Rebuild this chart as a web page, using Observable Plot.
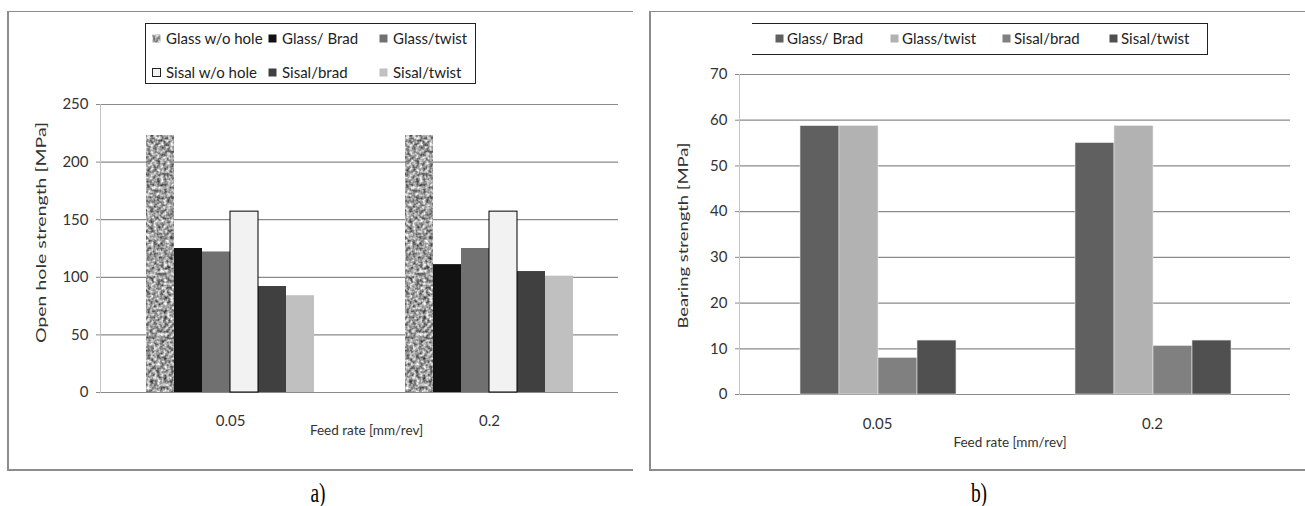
<!DOCTYPE html>
<html>
<head>
<meta charset="utf-8">
<script src="https://cdn.jsdelivr.net/npm/d3@7"></script>
<script src="https://cdn.jsdelivr.net/npm/@observablehq/plot@0.6"></script>
<style>
  body { margin: 0; background: #fff; }
  #page { position: relative; width: 1305px; height: 506px; overflow: hidden; background: #fff; font-family: Lato, "Open Sans", sans-serif; color: #333; }
  .abs { position: absolute; }
  .leg { position: absolute; font-size: 15px; line-height: 16px; white-space: nowrap; color: #222; }
  .sw { position: absolute; width: 9px; height: 9px; }
  .cap { position: absolute; font-family: "Liberation Serif", "DejaVu Serif", serif; font-size: 27px; color: #000; transform: translate(-50%, -50%) scaleX(0.72); }
</style>
</head>
<body>
<div id="page">
  <svg width="0" height="0" style="position:absolute">
    <defs>
      <filter id="noiseF" x="0" y="0" width="100%" height="100%" color-interpolation-filters="sRGB">
        <feTurbulence type="fractalNoise" baseFrequency="0.3" numOctaves="2" seed="7" stitchTiles="stitch"/>
        <feColorMatrix type="matrix" values="0 0 0 1.2 0.02  0 0 0 1.2 0.02  0 0 0 1.2 0.02  0 0 0 0 1"/>
      </filter>
      <pattern id="granite" patternUnits="userSpaceOnUse" width="200" height="400">
        <rect width="200" height="400" fill="#aaa" filter="url(#noiseF)"/>
      </pattern>
    </defs>
  </svg>
  <div class="abs" style="left:7px;top:11px;width:626px;height:460px;box-sizing:border-box;border-top:1.5px solid #8c8c8c;border-left:2px solid #8c8c8c;border-bottom:2px solid #8c8c8c;"></div>
  <div class="abs" style="left:649px;top:11px;width:700px;height:460px;box-sizing:border-box;border-top:1.5px solid #8c8c8c;border-left:2px solid #8c8c8c;border-bottom:2px solid #8c8c8c;"></div>
  <div id="chartA" class="abs" style="left:0;top:0"></div>
  <div id="barsA" class="abs" style="left:0;top:0"></div>
  <div id="chartB" class="abs" style="left:640px;top:0"></div>
  <div id="barsB" class="abs" style="left:640px;top:0"></div>
  <div class="abs" style="left:145px;top:23px;width:331px;height:61px;box-sizing:border-box;border:1px solid #222;background:#fff"></div>
  <div class="abs" style="left:752px;top:23px;width:456px;height:32px;box-sizing:border-box;border-top:1px solid #222;border-right:1px solid #222;border-bottom:1px solid #222;background:#fff"></div>
  <div id="legA"></div>
  <div id="legB"></div>
  <div class="cap" style="left:318px;top:493px">a)</div>
  <div class="cap" style="left:979px;top:493px">b)</div>
</div>
<script>
// ---- Data: panel a) Open hole strength ----
const feedRates = ["0.05", "0.2"];
const seriesA = ["Glass w/o hole", "Glass/ Brad", "Glass/twist", "Sisal w/o hole", "Sisal/brad", "Sisal/twist"];
const openHole_005 = [223, 125, 122, 157, 92, 84];
const openHole_02 = [223, 111, 125, 157, 105, 101];
const fillsA = ["url(#granite)", "#111111", "#707070", "#f2f2f2", "#404040", "#c0c0c0"];
const ticksA = [0, 50, 100, 150, 200, 250];

// ---- Data: panel b) Bearing strength ----
const seriesB = ["Glass/ Brad", "Glass/twist", "Sisal/brad", "Sisal/twist"];
const bearing_005 = [58.7, 58.7, 8, 11.8];
const bearing_02 = [55, 58.7, 10.6, 11.8];
const fillsB = ["#606060", "#b2b2b2", "#808080", "#505050"];
const ticksB = [0, 10, 20, 30, 40, 50, 60, 70];

const rowsA = [];
seriesA.forEach((s, i) => {
  rowsA.push({feed: feedRates[0], series: s, value: openHole_005[i]});
  rowsA.push({feed: feedRates[1], series: s, value: openHole_02[i]});
});
const rowsB = [];
seriesB.forEach((s, i) => {
  rowsB.push({feed: feedRates[0], series: s, value: bearing_005[i]});
  rowsB.push({feed: feedRates[1], series: s, value: bearing_02[i]});
});

const baseStyle = {fontFamily: "Lato, 'Open Sans', sans-serif", fontSize: "13px", color: "#333", background: "transparent", overflow: "visible"};
const gridColor = "#8a8a8a";

// geometry shared by background (axes/grid) and foreground (bars) plots of each panel
const geoA = {width: 640, height: 460, marginLeft: 100, marginRight: 22, marginTop: 104, marginBottom: 68};
const padA = {paddingInner: 0.336, paddingOuter: 0.168};
const geoB = {width: 665, height: 460, marginLeft: 99, marginRight: 15, marginTop: 74, marginBottom: 66};
const padB = {paddingInner: 0.43, paddingOuter: 0.215};

function background(geo, pad, yDomain, ticks, yLabel, yLab, xLab, tickPad) {
  const svg = Plot.plot({
    ...geo,
    style: baseStyle,
    x: {domain: feedRates, ...pad, axis: null},
    y: {domain: yDomain, axis: null},
    marks: [
      Plot.gridY(ticks, {stroke: gridColor, strokeOpacity: 1, strokeWidth: 1.2}),
      Plot.frame({anchor: "left", stroke: "#c4c4c4"}),
      Plot.axisY({ticks: ticks, tickSize: 4, tickPadding: 8, stroke: gridColor, fill: "#333", fontSize: 15, label: null, tickFormat: d => String(d)}),
      Plot.axisX({anchor: "bottom", tickSize: 0, tickPadding: tickPad, fill: "#333", fontSize: 15, label: null}),
      Plot.text([yLabel], {text: d => d, frameAnchor: "left", textAnchor: "middle", rotate: -90, dx: yLab.dx, dy: yLab.dy, fontSize: 14, fill: "#333"}),
      Plot.text(["Feed rate [mm/rev]"], {text: d => d, frameAnchor: "bottom", dx: xLab.dx, dy: xLab.dy, fontSize: 13.5, fill: "#333"})
    ]
  });
  // stretch the vertical axis title along its length, as in the reference
  svg.querySelectorAll("text").forEach(t => {
    if (t.textContent === yLabel) {
      t.setAttribute("textLength", yLab.len);
      t.setAttribute("lengthAdjust", "spacingAndGlyphs");
    }
  });
  return svg;
}

function bars(geo, pad, yDomain, rows, series, fills, extraMarks, barOpts) {
  return Plot.plot({
    ...geo,
    style: baseStyle,
    fx: {domain: feedRates, ...pad, axis: null, label: null},
    x: {domain: series, padding: 0, axis: null},
    y: {domain: yDomain, axis: null},
    color: {domain: series, range: fills},
    marks: [
      Plot.barY(rows, {fx: "feed", x: "series", y: "value", fill: "series", ...barOpts}),
      ...extraMarks
    ]
  });
}

document.getElementById("chartA").appendChild(
  background(geoA, padA, [0, 250], ticksA, "Open hole strength [MPa]", {dx: -59, dy: -16, len: 221}, {dx: 7, dy: 42}, 23));
document.getElementById("barsA").appendChild(
  bars(geoA, padA, [0, 250], rowsA, seriesA, fillsA, [
    Plot.barY(rowsA.filter(d => d.series === "Sisal w/o hole"), {fx: "feed", x: "series", y: "value", fill: "none", stroke: "#000", strokeWidth: 1})
  ], {}));

document.getElementById("chartB").appendChild(
  background(geoB, padB, [0, 70], ticksB, "Bearing strength [MPa]", {dx: -56, dy: 1, len: 186}, {dx: -5, dy: 52}, 24));
document.getElementById("barsB").appendChild(
  bars(geoB, padB, [0, 70], rowsB, seriesB, fillsB, [], {stroke: "#e6e6e6", strokeWidth: 0.6}));

// ---- Legends (HTML, built from the same arrays) ----
function swatchHTML(fill, outline) {
  const border = outline ? "stroke='#222' stroke-width='1'" : "";
  return `<svg width="9" height="9" style="display:block"><rect x="0.5" y="0.5" width="8" height="8" fill="${fill}" ${border}/></svg>`;
}
const legA = document.getElementById("legA");
const colTextA = [166, 282, 393];
const rowYA = [30, 64];
seriesA.forEach((s, i) => {
  const row = Math.floor(i / 3);
  const col = i % 3;
  const sw = document.createElement("div");
  sw.className = "sw";
  sw.style.left = (colTextA[col] - 14) + "px";
  sw.style.top = (rowYA[row] + 4) + "px";
  sw.innerHTML = swatchHTML(fillsA[i], s === "Sisal w/o hole");
  legA.appendChild(sw);
  const t = document.createElement("div");
  t.className = "leg";
  t.style.left = colTextA[col] + "px";
  t.style.top = rowYA[row] + "px";
  t.textContent = s;
  legA.appendChild(t);
});
const legB = document.getElementById("legB");
const colTextB = [787, 902, 1014, 1121];
seriesB.forEach((s, i) => {
  const sw = document.createElement("div");
  sw.className = "sw";
  sw.style.left = (colTextB[i] - 12) + "px";
  sw.style.top = "34px";
  sw.innerHTML = swatchHTML(fillsB[i], false);
  legB.appendChild(sw);
  const t = document.createElement("div");
  t.className = "leg";
  t.style.left = colTextB[i] + "px";
  t.style.top = "30px";
  t.textContent = s;
  legB.appendChild(t);
});
</script>
</body>
</html>
